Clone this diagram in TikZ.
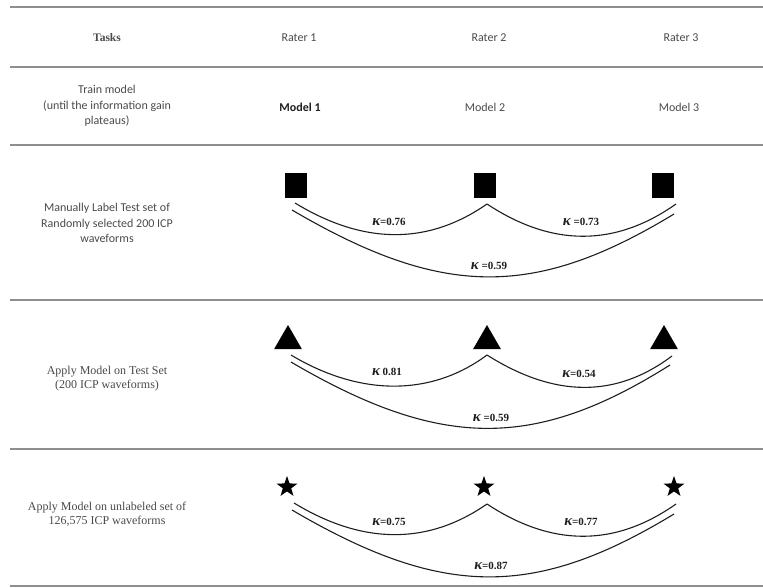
\documentclass[tikz,border=0pt]{standalone}
\usepackage{fontspec}
\setmainfont{Liberation Serif}
\newfontfamily\calib{Carlito}
\usetikzlibrary{shapes.geometric}
\definecolor{rulegray}{HTML}{8E8E8E}
\definecolor{txtgray}{HTML}{4A4A4A}
\definecolor{inkgray}{HTML}{1E1E1E}
\newcommand{\kapsym}{{\itshape\fontsize{15}{15}\selectfont κ}}
\begin{document}
\begin{tikzpicture}[x=1pt,y=-1pt,
  rule/.style={draw=rulegray, line width=2pt},
  colhead/.style={font=\calib\fontsize{12}{14}\selectfont, text=txtgray, inner sep=0},
  tasksans/.style={font=\calib\fontsize{12}{15.5}\selectfont, text=txtgray, align=center, inner sep=0},
  taskserif/.style={font=\fontsize{12}{14}\selectfont, text=txtgray, align=center, inner sep=0},
  sq/.style={fill=black, minimum width=22pt, minimum height=25pt, inner sep=0},
  tri/.style={regular polygon, regular polygon sides=3, fill=black, minimum size=32pt, inner sep=0},
  starmark/.style={star, star points=5, star point ratio=2.5, fill=black, minimum size=22pt, inner sep=0},
  link/.style={draw=inkgray, line width=1.1pt},
  kap/.style={font=\bfseries\fontsize{11}{12}\selectfont, inner sep=0, text=inkgray}]
\useasboundingbox (0,0) rectangle (763,587);

% table rules
\draw[rule] (10,7) -- (763,7);
\draw[rule] (10,67) -- (763,67);
\draw[rule] (10,145) -- (763,145);
\draw[rule] (10,300) -- (763,300);
\draw[rule] (10,449) -- (763,449);
\draw[rule] (10,586) -- (763,586);

% header row
\node[font=\bfseries\fontsize{11.5}{14}\selectfont, text=txtgray, inner sep=0] (tasks) at (107,38) {Tasks};
\node[colhead] (rater1) at (299,38) {Rater 1};
\node[colhead] (rater2) at (489,38) {Rater 2};
\node[colhead] (rater3) at (681,38) {Rater 3};

% training row
\node[tasksans] (train) at (107,106) {Train model\\(until the information gain\\plateaus)};
\node[colhead, font=\calib\bfseries\fontsize{12}{14}\selectfont, text=inkgray] (model1) at (300,107) {Model 1};
\node[colhead, text=inkgray!80] (model2) at (485,107) {Model 2};
\node[colhead, text=inkgray!80] (model3) at (679,107) {Model 3};

% manual labelling row
\node[tasksans] (manual) at (107,223) {Manually Label Test set of\\Randomly selected 200 ICP\\waveforms};
\node[sq] (m1) at (296,185) {};
\node[sq] (m2) at (485,185) {};
\node[sq] (m3) at (663,185) {};
\coordinate (m1a) at (295,203);
\coordinate (m1b) at (292,210);
\coordinate (m2a) at (487,204);
\coordinate (m3a) at (676,204);
\coordinate (m3b) at (674,214);
\draw[link] (m1a) .. controls +(69,42) and +(-59,41) .. (m2a);
\draw[link] (m2a) .. controls +(65,43) and +(-61,43) .. (m3a);
\draw[link] (m1b) .. controls +(150,88) and +(-140,85) .. (m3b);
\node[kap] (k1) at (389,222) {\kapsym=0.76};
\node[kap] (k2) at (581,222) {\kapsym\ =0.73};
\node[kap] (k3) at (489,266) {\kapsym\ =0.59};

% model on test set row
\node[taskserif] (apply) at (107,379) {Apply Model on Test Set\\(200 ICP waveforms)};
\node[tri] (t1) at (288,341) {};
\node[tri] (t2) at (487,341) {};
\node[tri] (t3) at (664,341) {};
\coordinate (t1a) at (291,355);
\coordinate (t1b) at (291,362);
\coordinate (t2a) at (487,355);
\coordinate (t3a) at (672,356);
\coordinate (t3b) at (670,365);
\draw[link] (t1a) .. controls +(70,42) and +(-55,41) .. (t2a);
\draw[link] (t2a) .. controls +(68,43) and +(-56,42) .. (t3a);
\draw[link] (t1b) .. controls +(150,88) and +(-135,85) .. (t3b);
\node[kap] (k4) at (387,372) {\kapsym\ 0.81};
\node[kap] (k5) at (579,374) {\kapsym=0.54};
\node[kap] (k6) at (491,418) {\kapsym\ =0.59};

% unlabeled set row
\node[taskserif] (unlab) at (107,514) {Apply Model on unlabeled set of\\126,575 ICP waveforms};
\node[starmark] (s1) at (287,487) {};
\node[starmark] (s2) at (484,487) {};
\node[starmark] (s3) at (674,487) {};
\coordinate (s1a) at (294,503);
\coordinate (s1b) at (292,510);
\coordinate (s2a) at (487,504);
\coordinate (s3a) at (676,504);
\coordinate (s3b) at (674,514);
\draw[link] (s1a) .. controls +(69,42) and +(-59,41) .. (s2a);
\draw[link] (s2a) .. controls +(65,43) and +(-61,43) .. (s3a);
\draw[link] (s1b) .. controls +(150,88) and +(-140,85) .. (s3b);
\node[kap] (k7) at (389,522) {\kapsym=0.75};
\node[kap] (k8) at (581,522) {\kapsym=0.77};
\node[kap] (k9) at (491,566) {\kapsym=0.87};
\end{tikzpicture}
\end{document}
